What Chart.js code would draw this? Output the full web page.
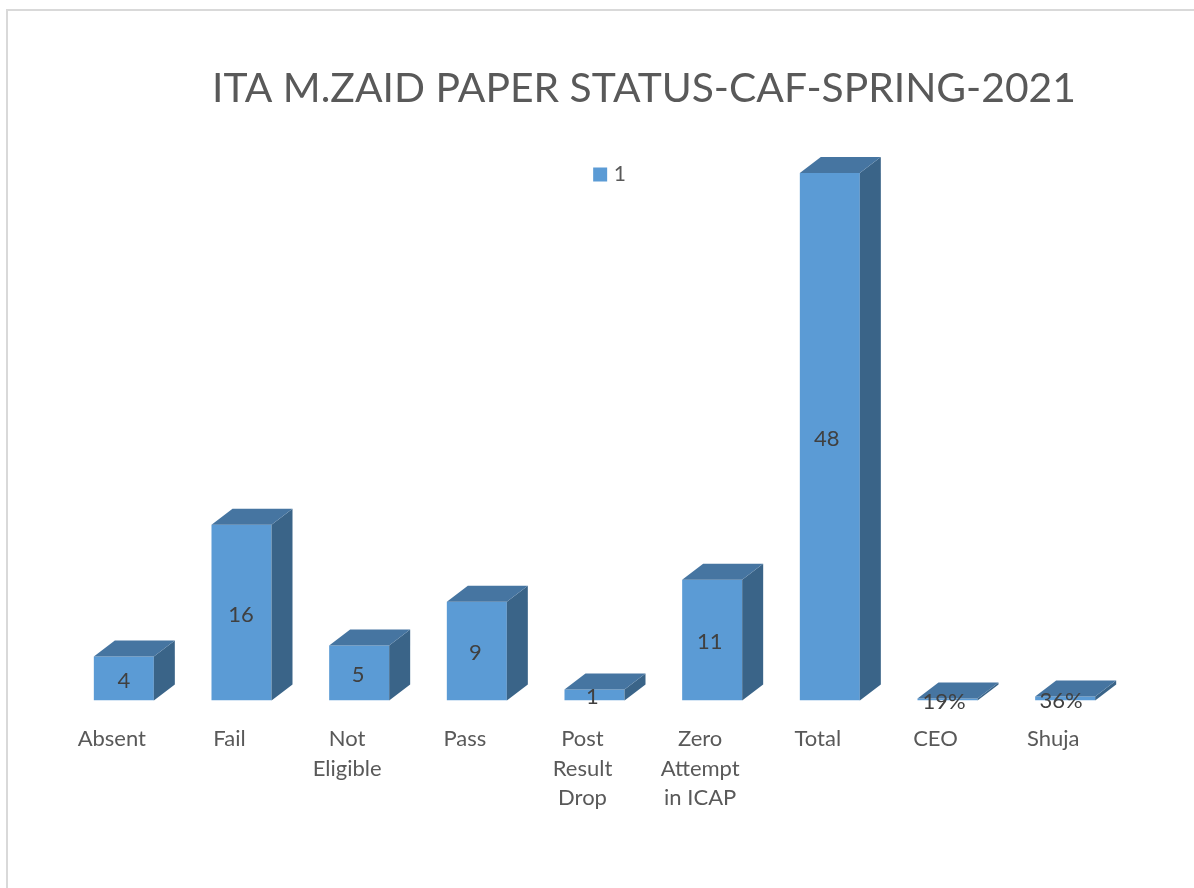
<!DOCTYPE html>
<html>
<head>
<meta charset="utf-8">
<style>
html,body{margin:0;padding:0;background:#fff;width:1194px;height:888px;overflow:hidden}
#frame{position:absolute;left:6px;top:9px;right:0;bottom:0;border-left:2px solid #d9d9d9;border-top:2px solid #d9d9d9}
#wrap{position:absolute;left:0;top:0;width:1194px;height:888px}
</style>
<script src="https://cdn.jsdelivr.net/npm/chart.js@4"></script>
</head>
<body>
<div id="frame"></div>
<div id="wrap"><canvas id="c" width="1194" height="888"></canvas></div>
<script>
const chartTitle = "ITA M.ZAID PAPER STATUS-CAF-SPRING-2021";
const seriesName = "1";
const categories = [["Absent"],["Fail"],["Not","Eligible"],["Pass"],["Post","Result","Drop"],["Zero","Attempt","in ICAP"],["Total"],["CEO"],["Shuja"]];
const values = [4,16,5,9,1,11,48,0.19,0.36];
const valueLabels = ["4","16","5","9","1","11","48","19%","36%"];

const FRONT="#5b9bd5", TOP="#4675a1", SIDE="#3a6488";
const DX=21, DY=16;

const bar3d = {
  id:"bar3d",
  afterLayout(chart){
    const t=chart.titleBlock;
    t.left+=49.5; t.right+=49.5;
    const th=t.bottom-t.top; t.top=64; t.bottom=64+th;
    const l=chart.legend;
    l.left+=17; l.right+=17;
    const lh=l.bottom-l.top; l.top=158; l.bottom=158+lh;
  },
  afterDatasetsDraw(chart){
    const ctx=chart.ctx;
    const meta=chart.getDatasetMeta(0);
    meta.data.forEach((b,i)=>{
      const w=b.width/2, x0=b.x-w, x1=b.x+w, y=b.y, base=b.base;
      ctx.fillStyle=SIDE;
      ctx.beginPath();ctx.moveTo(x1,y);ctx.lineTo(x1+DX,y-DY);ctx.lineTo(x1+DX,base-DY);ctx.lineTo(x1,base);ctx.closePath();ctx.fill();
      ctx.fillStyle=TOP;
      ctx.beginPath();ctx.moveTo(x0,y);ctx.lineTo(x0+DX,y-DY);ctx.lineTo(x1+DX,y-DY);ctx.lineTo(x1,y);ctx.closePath();ctx.fill();
    });
    ctx.save();
    ctx.font='22px Lato';
    ctx.fillStyle="#404040";
    ctx.textAlign="center";ctx.textBaseline="middle";
    meta.data.forEach((b,i)=>{
      ctx.fillText(valueLabels[i], b.x-i*0.5, (b.y+b.base)/2+2);
    });
    ctx.restore();
  }
};

new Chart(document.getElementById("c"),{
  type:"bar",
  data:{labels:categories,datasets:[{label:seriesName,data:values,backgroundColor:FRONT,borderWidth:0,categoryPercentage:1,barPercentage:0.51}]},
  plugins:[bar3d],
  options:{
    responsive:false,animation:false,
    layout:{padding:{left:65,right:70,top:87,bottom:59}},
    plugins:{
      title:{display:true,text:chartTitle,color:"#595959",font:{family:"Lato",size:40.8,weight:"normal"},padding:0},
      legend:{display:true,position:"top",labels:{boxWidth:6,boxHeight:6,color:"#595959",font:{family:"Lato",size:21},padding:6,
        generateLabels(chart){
          return [{text:seriesName,fillStyle:FRONT,strokeStyle:FRONT,lineWidth:8,fontColor:"#595959",datasetIndex:0,hidden:false}];
        }}},
      tooltip:{enabled:false}
    },
    scales:{
      x:{grid:{display:false},border:{display:false},
         ticks:{color:"#595959",font:{family:"Lato",size:22,lineHeight:1.34},maxRotation:0,autoSkip:false,labelOffset:-12,padding:16}},
      y:{display:false,min:0,max:48}
    }
  }
});
</script>
</body>
</html>
